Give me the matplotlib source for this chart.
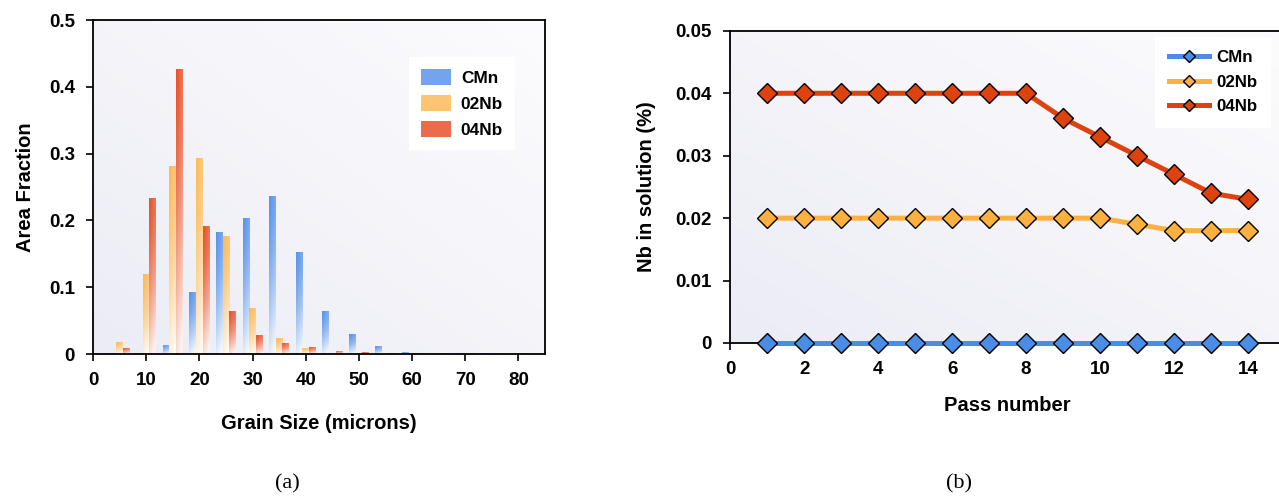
import numpy as np
import matplotlib
matplotlib.use("Agg")
import matplotlib.pyplot as plt
from matplotlib.patches import Patch
from matplotlib.colors import to_rgb

plt.rcParams['font.family'] = ['Liberation Sans Narrow', 'Liberation Sans', 'DejaVu Sans']
plt.rcParams['font.weight'] = 'bold'

# ---- data (a): grain size distribution ----
grain_size = [5, 10, 15, 20, 25, 30, 35, 40, 45, 50, 55, 60, 65, 70, 75, 80]
cmn_frac = [0.001, 0.0015, 0.0135, 0.093, 0.182, 0.204, 0.236, 0.152, 0.065,
            0.0295, 0.0115, 0.0025, 0.001, 0.001, 0.001, 0.0]
nb02_frac = [0.018, 0.12, 0.281, 0.294, 0.177, 0.069, 0.024, 0.009, 0.001,
             0.001, 0.0005, 0.0005, 0.0005, 0.0005, 0.0, 0.0]
nb04_frac = [0.009, 0.234, 0.427, 0.191, 0.065, 0.0285, 0.0165, 0.0105, 0.0045,
             0.0025, 0.001, 0.001, 0.001, 0.001, 0.001, 0.001]
a_xticks = [0, 10, 20, 30, 40, 50, 60, 70, 80]
a_yticks = [0, 0.1, 0.2, 0.3, 0.4, 0.5]
a_ylabels = ['0', '0.1', '0.2', '0.3', '0.4', '0.5']

# ---- data (b): Nb in solution per pass ----
passes = [1, 2, 3, 4, 5, 6, 7, 8, 9, 10, 11, 12, 13, 14]
cmn_nb = [0, 0, 0, 0, 0, 0, 0, 0, 0, 0, 0, 0, 0, 0]
nb02_nb = [0.02, 0.02, 0.02, 0.02, 0.02, 0.02, 0.02, 0.02, 0.02, 0.02, 0.019, 0.018, 0.018, 0.018]
nb04_nb = [0.04, 0.04, 0.04, 0.04, 0.04, 0.04, 0.04, 0.04, 0.036, 0.033, 0.030, 0.027, 0.024, 0.023]
b_xticks = [0, 2, 4, 6, 8, 10, 12, 14]
b_yticks = [0, 0.01, 0.02, 0.03, 0.04, 0.05]
b_ylabels = ['0', '0.01', '0.02', '0.03', '0.04', '0.05']

names = ['CMn', '02Nb', '04Nb']
bar_cols = ['#5a94ea', '#fdbb58', '#e8522a']
line_cols = ['#4a8ce6', '#fbb040', '#de420e']


def backdrop(ax):
    g = np.linspace(0, 1, 64)
    xx, yy = np.meshgrid(g, g)
    t = np.clip((xx + (1 - yy)) / 2, 0, 1)  # 0 top-left, 1 bottom-right (origin upper)
    c0 = np.array(to_rgb('#ececf5'))
    c1 = np.array(to_rgb('#fcfcfe'))
    img = c0 * (1 - t[..., None]) + c1 * t[..., None]
    ax.imshow(img, extent=[0, 1, 0, 1], transform=ax.transAxes, aspect='auto',
              zorder=0, interpolation='bilinear')


def shade(ax, bars, col):
    c = np.array(to_rgb(col))
    v = np.linspace(0, 1, 40)[:, None]
    h = np.linspace(0, 1, 8)[None, :]
    a = np.clip(0.8 * v ** 1.5 + 0.2 * h, 0, 0.93)
    img = c * (1 - a[..., None]) + a[..., None]
    for b in bars:
        x, y = b.get_xy()
        w, hh = b.get_width(), b.get_height()
        if hh <= 0:
            continue
        im = ax.imshow(img, extent=[x, x + w, y, y + hh], aspect='auto',
                       zorder=2, interpolation='bilinear')
        im.set_clip_path(b)


fig = plt.figure(figsize=(12.79, 4.97), dpi=100)

# ---------- (a) ----------
ax1 = fig.add_axes([0.0727, 0.2877, 0.3534, 0.672])
backdrop(ax1)
bw = 1.25
xs = np.array(grain_size, dtype=float)
for i, (vals, col) in enumerate(zip([cmn_frac, nb02_frac, nb04_frac], bar_cols)):
    bars = ax1.bar(xs + (i - 1) * bw, vals, width=bw, facecolor='none',
                   edgecolor='none', zorder=2)
    shade(ax1, bars, col)
ax1.set_xlim(0, 85)
ax1.set_ylim(0, 0.5)
ax1.set_xticks(a_xticks)
ax1.set_yticks(a_yticks)
ax1.set_yticklabels(a_ylabels)
ax1.tick_params(labelsize=13.5, length=5, width=1.2, direction='out', pad=8)
for s in ax1.spines.values():
    s.set_linewidth(1.3)
ax1.set_xlabel('Grain Size (microns)', fontsize=14.5, fontweight='bold', labelpad=18)
ax1.set_ylabel('Area Fraction', fontsize=14.5, fontweight='bold', labelpad=10)
handles = [Patch(facecolor=c, edgecolor='none', alpha=0.85) for c in bar_cols]
leg1 = ax1.legend(handles, names, loc='upper right', bbox_to_anchor=(0.934, 0.889),
                  borderaxespad=0, frameon=True, fancybox=False, framealpha=1,
                  edgecolor='none', fontsize=12.4, handlelength=1.7, handleheight=1.0,
                  labelspacing=0.55, borderpad=0.7, handletextpad=0.6)

# ---------- (b) ----------
ax2 = fig.add_axes([0.5708, 0.3099, 0.434, 0.628])
backdrop(ax2)
for vals, col, nm in zip([cmn_nb, nb02_nb, nb04_nb], line_cols, names):
    ax2.plot(passes, vals, color=col, lw=3.6, marker='D', markersize=10.5,
             markerfacecolor=col, markeredgecolor='black', markeredgewidth=1.0,
             label=nm, zorder=3, clip_on=False)
ax2.set_xlim(0, 15)
ax2.set_ylim(0, 0.05)
ax2.set_xticks(b_xticks)
ax2.set_xticks(passes, minor=True)
ax2.set_yticks(b_yticks)
ax2.set_yticklabels(b_ylabels)
ax2.tick_params(labelsize=13.5, length=5, width=1.2, direction='out', pad=8)
ax2.tick_params(axis='x', which='minor', length=4, width=1.0)
ax2.spines['right'].set_visible(False)
for s in ax2.spines.values():
    s.set_linewidth(1.3)
ax2.set_xlabel('Pass number', fontsize=14.5, fontweight='bold', labelpad=13)
ax2.set_ylabel('Nb in solution (%)', fontsize=14.5, fontweight='bold', labelpad=14)
leg2 = ax2.legend(loc='upper right', bbox_to_anchor=(0.974, 0.981), borderaxespad=0,
                  frameon=True, fancybox=False, framealpha=1, edgecolor='none',
                  fontsize=12.2, handlelength=2.4, labelspacing=0.55,
                  borderpad=0.8, handletextpad=0.4, markerscale=0.6)

fig.text(287 / 1279, 1 - 484 / 497, '(a)', family=['Liberation Serif', 'DejaVu Serif'],
         fontweight='normal', fontsize=16, ha='center', va='center')
fig.text(959 / 1279, 1 - 484 / 497, '(b)', family=['Liberation Serif', 'DejaVu Serif'],
         fontweight='normal', fontsize=16, ha='center', va='center')

fig.savefig('out.png', dpi=100)
